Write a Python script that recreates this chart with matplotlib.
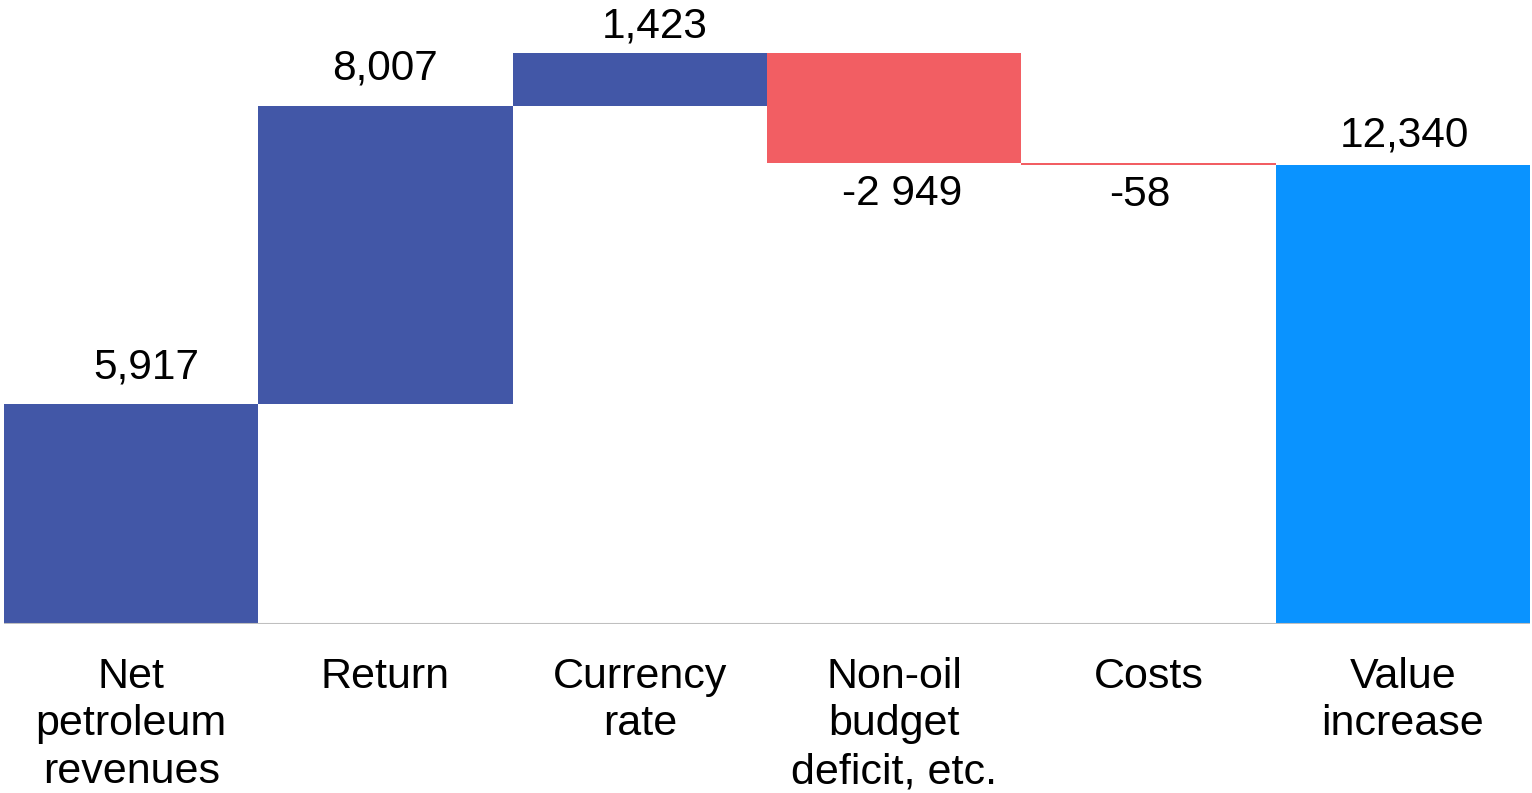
import matplotlib.pyplot as plt
import numpy as np

# Waterfall: from net petroleum revenues to total value increase
categories = ["Net\npetroleum\nrevenues", "Return", "Currency\nrate",
              "Non-oil\nbudget\ndeficit, etc.", "Costs", "Value\nincrease"]
changes = [5917, 8007, 1423, -2949, -58]
total = 12340
value_labels = ["5,917", "8,007", "1,423", "-2 949", "-58", "12,340"]

col_up = "#4257A7"
col_down = "#F25E63"
col_total = "#0A93FF"

# label nudges (dx, dy) in points, relative to the bar end
label_nudge = [(11, 18), (0, 19), (11, 11), (6, -8), (-6, -7), (1, 13)]

plt.rcParams["font.family"] = ["Liberation Sans", "DejaVu Sans"]

fig = plt.figure(figsize=(15.32, 7.93), dpi=100)
ax = fig.add_axes([4 / 1532, 169 / 793, 1526 / 1532, 624 / 793])

# running start of each step
starts = np.concatenate([[0], np.cumsum(changes)[:-1]])
bottoms = list(np.minimum(starts, starts + changes)) + [0]
heights = [abs(c) for c in changes] + [total]
colors = [col_up if c > 0 else col_down for c in changes] + [col_total]
x = np.arange(len(categories))

ax.bar(x, heights, bottom=bottoms, width=1.0, color=colors, linewidth=0)

vals = changes + [total]
for i, (v, b, h) in enumerate(zip(vals, bottoms, heights)):
    dx, dy = label_nudge[i]
    if v >= 0:
        ax.annotate(value_labels[i], (i, b + h), xytext=(dx, dy), textcoords="offset points",
                    ha="center", va="baseline", fontsize=30.5)
    else:
        ax.annotate(value_labels[i], (i, b), xytext=(dx, dy), textcoords="offset points",
                    ha="center", va="top", fontsize=30.5)

ax.set_xlim(-0.5, len(categories) - 0.5)
ax.set_ylim(0, 16774)
ax.axhline(0, color="#BFBFBF", linewidth=1.5, zorder=3)

ax.set_xticks(x)
ax.set_xticklabels(categories, fontsize=31, linespacing=1.25)
ax.tick_params(axis="x", length=0, pad=23.5)
ax.set_yticks([])
for s in ax.spines.values():
    s.set_visible(False)

fig.savefig("out.png", dpi=100)
